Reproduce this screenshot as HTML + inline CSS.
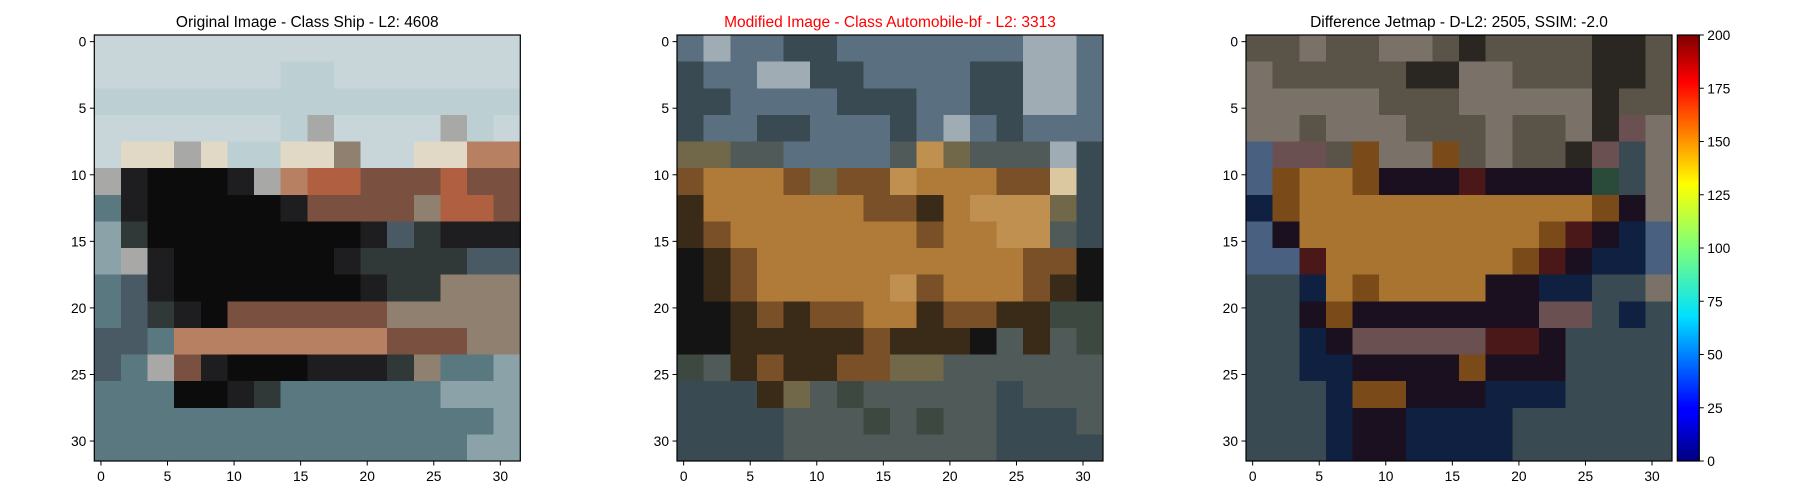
<!DOCTYPE html>
<html><head><meta charset="utf-8"><style>
html,body{margin:0;padding:0;background:#fff;width:1800px;height:500px;overflow:hidden}
svg{display:block;font-family:"Liberation Sans","DejaVu Sans",sans-serif}
</style></head><body>
<svg id="fig" width="1800" height="500" viewBox="0 0 1800 500"></svg>
<script>
const ticks=[0,5,10,15,20,25,30];
const cbTicks=[0,25,50,75,100,125,150,175,200];
const cbMax=200;
const titles=["Original Image - Class Ship - L2: 4608","Modified Image - Class Automobile-bf - L2: 3313","Difference Jetmap - D-L2: 2505, SSIM: -2.0"];
const titleColors=["#000","#ff0000","#000"];
const pal1={a:"#c8d6da",b:"#bccfd3",w:"#e2d8c6",g:"#a8a8a6",k:"#0c0c0c",d:"#1e1e20",r:"#b06040",o:"#b88062",m:"#7a5040",s:"#5a7880",t:"#8aa2a8",n:"#303838",p:"#4a5a64",u:"#908070"};
const img1=["aaaaaaaaaaaaaaaa","aaaaaaabbaaaaaaa","bbbbbbbbbbbbbbbb","aaaaaaabgaaaagba","awwgwbbwwuaawwoo","gdkkkdgorrmmmrmm","sdkkkkkdmmmmurrm","tnkkkkkkkkdpnddd","tgdkkkkkkdnnnnpp","spdkkkkkkkdnnuuu","spndkmmmmmmuuuuu","ppsoooooooommmuu","psgmdkkkdddnusst","ssskkdnssssssttt","ssssssssssssssst","sssssssssssssstt"];
const pal2={B:"#5a7080",L:"#a0acb4",D:"#3a4a52",T:"#b07a38",Y:"#c09050",M:"#7a5028",N:"#3a2a18",K:"#141414",G:"#3c4840",H:"#505a58",O:"#706848",W:"#dcc8a0"};
const img2=["BLBBDDBBBBBBBLLB","DBBLLDDBBBBDDLLB","DDBBBBDDDBBDDLLB","DBBDDBBBDBLBDBBB","OOHHBBBBHYOHHHLD","MTTTMOMMYTTTMMWD","NTTTTTTMMNTYYYOD","NMTTTTTTTMTTYYHD","KNMTTTTTTTTTTMMK","KNMTTTTTYMTTTMNK","KKNMNMMTTNMMNNGG","KKNNNNNMNNNKHNHG","GHNMNNMMOOHHHHHH","DDDNOHGHHHHHDHHH","DDDDHHHGHGHHDDDH","DDDDHHHHHHHHDDDD"];
const pal3={A:"#7a7268",C:"#5a5448",E:"#2a2622",T:"#a87430",M:"#7a4a18",K:"#1a1020",V:"#4a6080",N:"#102040",S:"#3a4a52",P:"#6a5050",R:"#4a1818",G:"#2a4a3a"};
const img3=["CCACCAACECCCCEEC","ACCCCCEEAACCCEEC","AAAAACCCAAAAAECC","AACAAACCCACCAEPA","VPPCMAAMCACCEPSA","VMTTMKKKRKKKKGSA","NMTTTTTTTTTTTMKA","VKTTTTTTTTTMRKNV","VVRTTTTTTTMRKNNV","SSNTMTTTTKKNNSSA","SSKMKKKKKKKPPSNS","SSNKPPPPPRRKSSSS","SSNNKKKKMKKKSSSS","SSSNMMKKKNNNSSSS","SSSNKKNNNNSSSSSS","SSSNKKNNNNSSSSSS"];
const images=[[img1,pal1],[img2,pal2],[img3,pal3]];
const NS="http://www.w3.org/2000/svg";
const svg=document.getElementById('fig');
function mk(tag,attrs,parent){const e=document.createElementNS(NS,tag);for(const k in attrs)e.setAttribute(k,attrs[k]);(parent||svg).appendChild(e);return e;}
const lefts=[94.3,677,1246], topY=35, size=426, NPIX=32, cell=size/NPIX;
function xs(l,v){return l+(v+0.5)*cell;}
function ys(v){return topY+(v+0.5)*cell;}
images.forEach(([grid,pal],i)=>{
  const l=lefts[i];
  const g=mk('g',{'shape-rendering':'crispEdges'});
  
  
  const cs=size/grid.length;
  grid.forEach((row,r)=>{[...row].forEach((ch,c)=>{
    const rc=mk('rect',{x:l+c*cs,y:topY+r*cs,width:cs+0.6,height:cs+0.6,fill:pal[ch]},g);
    
    
  });});
  const fr=mk('rect',{x:l,y:topY,width:size,height:size,fill:'none',stroke:'#000','stroke-width':1.2});
  
  
  const t=mk('text',{x:l+size/2,y:27,'text-anchor':'middle','font-size':15.5,fill:titleColors[i]});
  t.textContent=titles[i];
  
  
  ticks.forEach(v=>{
    const x=xs(l,v);
    mk('line',{x1:x,x2:x,y1:topY+size,y2:topY+size+4.5,stroke:'#000','stroke-width':1});
    const tx=mk('text',{x:x,y:topY+size+20,'text-anchor':'middle','font-size':13.8,fill:'#000'});
    tx.textContent=v;
    
    
    const y=ys(v);
    mk('line',{x1:l-4.5,x2:l,y1:y,y2:y,stroke:'#000','stroke-width':1});
    const ty=mk('text',{x:l-8,y:y+5,'text-anchor':'end','font-size':13.8,fill:'#000'});
    ty.textContent=v;
    
    
  });
});
const defs=mk('defs',{});
const lg=mk('linearGradient',{id:'jet',x1:0,y1:1,x2:0,y2:0},defs);
[[0,'#00007f'],[0.11,'#0000ff'],[0.125,'#0000ff'],[0.34,'#00e0ff'],[0.5,'#7dff7a'],[0.65,'#ffff00'],[0.89,'#ff0000'],[1,'#7f0000']].forEach(([o,c])=>mk('stop',{offset:o,'stop-color':c},lg));
const cbx=1677.3, cbw=22;
const cb=mk('rect',{x:cbx,y:topY,width:cbw,height:size,fill:'url(#jet)',stroke:'#000','stroke-width':1.2});


cbTicks.forEach(v=>{
  const y=topY+size-(v/cbMax)*size;
  mk('line',{x1:cbx+cbw,x2:cbx+cbw+4.5,y1:y,y2:y,stroke:'#000','stroke-width':1});
  const t=mk('text',{x:cbx+cbw+8,y:y+5,'font-size':13.8,fill:'#000'});
  t.textContent=v;
  
  
});
</script>
</body></html>
